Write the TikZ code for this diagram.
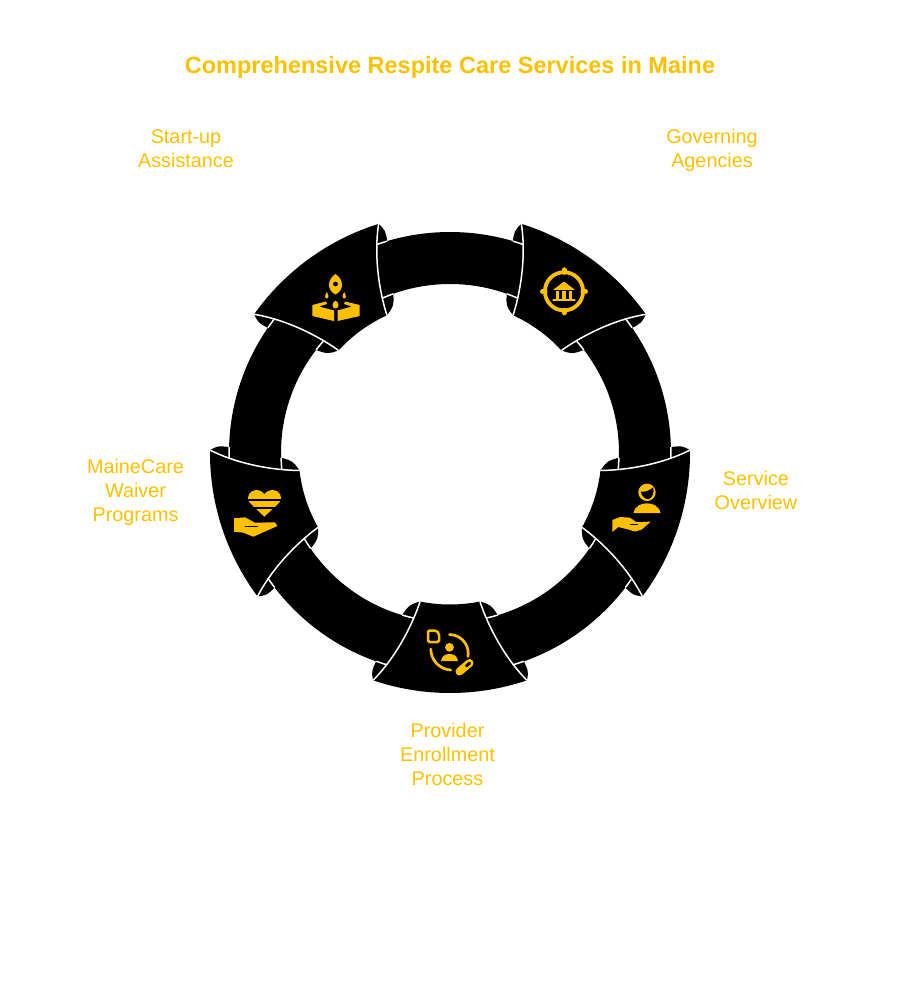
\documentclass[tikz,border=0pt]{standalone}
\usepackage{fontspec}
\setmainfont{Liberation Sans}
\usetikzlibrary{calc}
\definecolor{iconyellow}{RGB}{255,192,0}
\begin{document}
\begin{tikzpicture}[
    x=1pt, y=-1pt,
    caption/.style={text=iconyellow, align=center, inner sep=0pt, font=\fontsize{19.8}{24}\selectfont},
    heading/.style={text=iconyellow, inner sep=0pt, font=\fontsize{23.5}{28}\selectfont\bfseries},
    segfill/.style={fill=black},
    segline/.style={draw=white, line width=1.5pt},
    iconfill/.style={fill=iconyellow},
    iconline/.style={draw=iconyellow, line cap=round}
]
\useasboundingbox (0,0) rectangle (900,994);

% Title and labels
\node[heading] (title) at (450,67.5) {Comprehensive Respite Care Services in Maine};
\node[caption] (startup) at (186,148.5) {Start-up\\Assistance};
\node[caption] (governing) at (712,150.5) {Governing\\Agencies};
\node[caption] (service) at (756,490.5) {Service\\Overview};
\node[caption] (provider) at (447.5,754) {Provider\\Enrollment\\Process};
\node[caption] (mainecare) at (135.5,492.5) {MaineCare\\Waiver\\Programs};

% Ring
\fill[segfill, even odd rule] (450,453) circle[radius=221] (450,453) circle[radius=169];

% Five wide segments with their flaps
\foreach \ang in {0,72,...,288} {
\begin{scope}[shift={(450,453)}, rotate=\ang]
  \fill[segfill] (108.7:240) arc[start angle=108.7, end angle=71.3, radius=240]
    .. controls (44,194) and (30,149) .. (78.6:151.5)
    arc[start angle=78.6, end angle=101.4, radius=151.5]
    .. controls (-30,149) and (-44,194) .. cycle;
  \foreach \s in {1,-1} {
  \begin{scope}[xscale=\s]
    \fill[segfill] (-77,227.4) .. controls (-78.5,218) .. (-73.7,208) -- (-50,215) -- cycle;
    \fill[segfill] (-30,148.5) .. controls (-41,152) .. (-47.7,162) -- (-30,168) -- cycle;
    \draw[segline] (-77,227.4) .. controls (-44,194) and (-30,149) .. (-30,148.5);
    \draw[segline] (109.5:221) arc[start angle=109.5, end angle=106.5, radius=221];
    \draw[segline] (106.4:169) arc[start angle=106.4, end angle=102.6, radius=169];
  \end{scope}
  }
\end{scope}
}

% Rocket and box
\fill[iconfill] (335.5,274) .. controls (331,277) and (329,281) .. (329,285)
  .. controls (329,289) and (332,293) .. (335.5,294.5)
  .. controls (339,293) and (342,289) .. (342,285)
  .. controls (342,281) and (340,277) .. (335.5,274) -- cycle;
\fill[black] (335.5,284) circle[radius=2.4];
\foreach \dx in {-8.7,8.7} {
  \fill[iconfill] (335.5+\dx,292) .. controls (333.5+\dx,295) and (333+\dx,298.5) .. (335.5+\dx,298.5)
    .. controls (338+\dx,298.5) and (337.5+\dx,295) .. (335.5+\dx,292) -- cycle;
}
\fill[iconfill] (335.5,300.5) .. controls (331.5,303) and (331.5,308) .. (335.5,308.5)
  .. controls (339.5,308) and (339.5,303) .. (335.5,300.5) -- cycle;
\fill[iconfill] (312.3,305) -- (326,301.5) -- (327,304) -- (319,306.5) -- (334,310.5) -- (334,321) -- (312.3,316) -- cycle;
\fill[iconfill] (359.7,305) -- (345,301.5) -- (344,304) -- (352,306.5) -- (337.5,310.5) -- (337.5,321) -- (359.7,316) -- cycle;

% Bank in target
\draw[iconline, line width=3.8pt] (564,291.3) circle[radius=19.1];
\foreach \a in {0,90,180,270} {
  \draw[iconline, line width=5pt] ($(564,291.3)+(\a:19)$) -- ($(564,291.3)+(\a:21.5)$);
}
\fill[iconfill] (564,281.5) -- (574.8,289.8) -- (553.2,289.8) -- cycle;
\foreach \dx in {-6.5,0,6.5} {
  \fill[iconfill] (562.1+\dx,291) rectangle (565.9+\dx,299);
}
\draw[iconline, line width=2.8pt] (553.5,300) -- (574.5,300);

% Person over hand
\fill[iconfill] (647,492.3) circle[radius=8.7];
\fill[black] (640.7,491.7) .. controls (642,497) and (646,499.5) .. (649,499)
  .. controls (652,498) and (654.5,493) .. (653.3,487.3)
  .. controls (649,491) and (645,492) .. (640.7,491.7) -- cycle;
\fill[iconfill] (633.5,513) .. controls (635,506) and (641,503.3) .. (647,503.3)
  .. controls (653,503.3) and (659,506) .. (660.5,513) -- cycle;
\fill[iconfill] (612.3,520) -- (620,517) -- (630,517.7) -- (636,522) -- (643,522) -- (651,521.5)
  -- (641.7,529.5) -- (635,531.5) -- (628.3,529.5) -- (618.3,527) -- (612.3,532) -- cycle;
\draw[black, line width=0.8pt] (630,524.5) -- (638,524.5);

% Person with document and pill
\draw[iconline, line width=2.5pt, rounded corners=1.5pt] (428,630.5) -- (436,630.5) -- (439,633.5) -- (439,642) -- (428,642) -- cycle;
\fill[iconfill] (449.5,647.3) circle[radius=4.4];
\fill[iconfill] (441,661) .. controls (442,656) and (445,654) .. (449.5,654)
  .. controls (454,654) and (457,656) .. (458,661) -- cycle;
\draw[iconline, line width=2.7pt] (449.5,634.5) arc[start angle=-90, end angle=10, radius=18.7];
\draw[iconline, line width=2.7pt] (430.8,649) arc[start angle=180, end angle=93, radius=21];
\draw[iconline, line width=8pt] (459.5,671.5) -- (469.5,663);
\draw[black, line width=3pt, line cap=round] (466.5,665.8) -- (469.5,663.2);

% Heart over hand
\fill[iconfill] (264.3,516.7) -- (250,503) .. controls (245,497) and (250,490) .. (256,490)
  .. controls (260,490) and (263,492) .. (264.3,494)
  .. controls (266,492) and (269,490) .. (273,490)
  .. controls (279,490) and (284,497) .. (279,503) -- cycle;
\fill[black] (245,498.5) rectangle (284,500.7);
\fill[black] (245,507) rectangle (284,509);
\fill[iconfill] (234,518.3) -- (245,517.3) -- (255,522.7) -- (275,522.3) -- (277.3,526)
  -- (253.3,536.7) -- (243.3,532.7) -- (234,531.7) -- cycle;
\draw[black, line width=0.8pt] (245,526) -- (258.3,526);

\end{tikzpicture}
\end{document}
